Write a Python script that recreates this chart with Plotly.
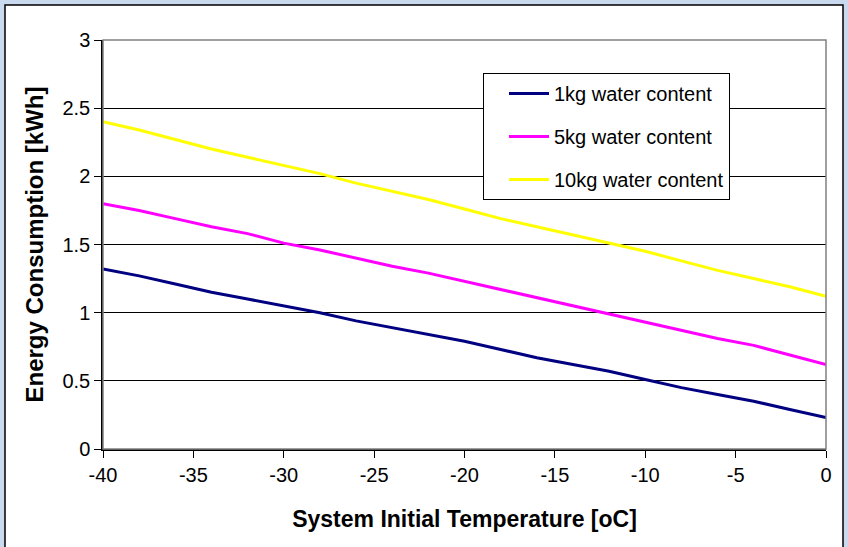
import plotly.graph_objects as go

temps = [-40, -38, -36, -34, -32, -30, -28, -26, -24, -22, -20, -18, -16, -14, -12, -10, -8, -6, -4, -2, 0]
kg1 = [1.32, 1.27, 1.21, 1.15, 1.10, 1.05, 1.00, 0.94, 0.89, 0.84, 0.79, 0.73, 0.67, 0.62, 0.57, 0.51, 0.45, 0.40, 0.35, 0.29, 0.23]
kg5 = [1.80, 1.75, 1.69, 1.63, 1.58, 1.51, 1.46, 1.40, 1.34, 1.29, 1.23, 1.17, 1.11, 1.05, 0.99, 0.93, 0.87, 0.81, 0.76, 0.69, 0.62]
kg10 = [2.40, 2.34, 2.27, 2.20, 2.14, 2.08, 2.02, 1.95, 1.89, 1.83, 1.76, 1.69, 1.63, 1.57, 1.51, 1.45, 1.38, 1.31, 1.25, 1.19, 1.12]
names = ["1kg water content", "5kg water content", "10kg water content"]
colors = ["#000080", "#ff00ff", "#ffff00"]
x_ticks = [-40, -35, -30, -25, -20, -15, -10, -5, 0]
x_ticklabels = ["-40", "-35", "-30", "-25", "-20", "-15", "-10", "-5", "0"]
y_ticks = [0, 0.5, 1, 1.5, 2, 2.5, 3]
y_ticklabels = ["0", "0.5", "1", "1.5", "2", "2.5", "3"]

fig = go.Figure()
for i, (ys, nm, c) in enumerate(zip([kg1, kg5, kg10], names, colors)):
    fig.add_trace(go.Scatter(x=temps, y=ys, mode="lines", name=nm,
                             line=dict(color=c, width=3), legendgroup=str(i)))

L, R, T, B = 103, 22, 40, 98
W, H = 848, 547
pw, ph = W - L - R, H - T - B

def px_x(p):
    return (p - L) / pw

def px_y(p):
    return (H - B - p) / ph

fig.add_shape(type="rect", xref="paper", yref="paper",
              x0=px_x(5), x1=px_x(843), y0=px_y(560), y1=px_y(5),
              fillcolor="white", line=dict(color="black", width=1.5), layer="below")
fig.add_shape(type="rect", xref="paper", yref="paper",
              x0=0, x1=1, y0=0, y1=1,
              fillcolor="rgba(0,0,0,0)", line=dict(color="#808080", width=1.5), layer="above")

tickfont = dict(family="Liberation Sans, Arial, sans-serif", size=20, color="black")

fig.update_layout(
    width=W, height=H,
    margin=dict(l=L, r=R, t=T, b=B),
    paper_bgcolor="#c9daee",
    plot_bgcolor="#c0c0c0",
    font=dict(family="Liberation Sans, Arial, sans-serif", size=20, color="black"),
    legend=dict(x=px_x(483), y=px_y(73), xanchor="left", yanchor="top",
                bgcolor="white", bordercolor="black", borderwidth=1,
                font=dict(size=20), traceorder="grouped", tracegroupgap=14,
                itemwidth=40, indentation=20),
    xaxis=dict(range=[-40, 0], tickvals=x_ticks, ticktext=x_ticklabels,
               tickfont=tickfont, showgrid=False, zeroline=False,
               showline=True, linecolor="black", linewidth=1.5,
               ticks="outside", ticklen=7, tickcolor="black",
               title=dict(text="<b>System Initial Temperature [oC]</b>", font=dict(size=23), standoff=26)),
    yaxis=dict(range=[0, 3], tickvals=y_ticks, ticktext=y_ticklabels,
               tickfont=tickfont, showgrid=True, gridcolor="black", gridwidth=1,
               zeroline=False, showline=True, linecolor="black", linewidth=1.5,
               ticks="outside", ticklen=7, tickcolor="black",
               title=dict(text="<b>Energy Consumption [kWh]</b>", font=dict(size=24), standoff=12)),
)

fig.write_html("out.html", config={"displayModeBar": False},
               post_script="document.body.style.margin='0';")
